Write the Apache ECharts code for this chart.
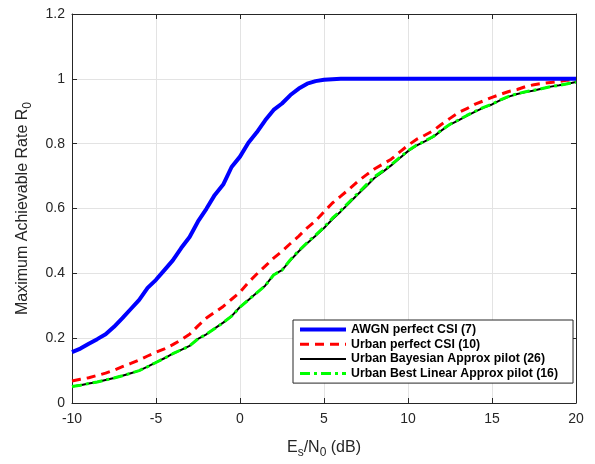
<!DOCTYPE html>
<html>
<head>
<meta charset="utf-8">
<script src="https://cdn.jsdelivr.net/npm/echarts@6/dist/echarts.min.js"></script>
<style>html,body{margin:0;padding:0;background:#fff}#c{width:595px;height:464px}</style>
</head>
<body>
<div id="c"></div>
<script>
// Es/N0 (dB), 0.5 dB steps from -10 to 20
const snr = [];
for (let i = 0; i <= 60; i++) snr.push(-10 + i * 0.5);

const awgnPerfect = [0.157,0.168,0.183,0.197,0.212,0.235,0.262,0.29,0.318,0.355,0.38,0.41,0.44,0.478,0.512,0.56,0.599,0.642,0.674,0.728,0.76,0.803,0.835,0.872,0.904,0.924,0.95,0.97,0.985,0.993,0.997,0.999,1,1,1,1,1,1,1,1,1,1,1,1,1,1,1,1,1,1,1,1,1,1,1,1,1,1,1,1,1];
const urbanPerfect = [0.068,0.073,0.078,0.085,0.092,0.101,0.112,0.122,0.133,0.145,0.157,0.167,0.18,0.195,0.212,0.238,0.262,0.28,0.298,0.32,0.342,0.372,0.398,0.422,0.447,0.468,0.492,0.515,0.54,0.562,0.59,0.617,0.638,0.66,0.683,0.703,0.722,0.737,0.752,0.774,0.795,0.813,0.826,0.84,0.86,0.878,0.896,0.908,0.922,0.932,0.943,0.952,0.961,0.967,0.976,0.982,0.986,0.989,0.992,0.996,0.998];
const urbanBayes = [0.051,0.055,0.06,0.065,0.071,0.077,0.084,0.092,0.1,0.112,0.125,0.138,0.152,0.164,0.176,0.198,0.212,0.23,0.248,0.268,0.296,0.318,0.34,0.362,0.395,0.41,0.44,0.468,0.493,0.516,0.54,0.567,0.591,0.617,0.643,0.668,0.694,0.713,0.733,0.755,0.777,0.794,0.807,0.821,0.841,0.859,0.872,0.886,0.899,0.911,0.921,0.934,0.945,0.953,0.959,0.964,0.97,0.976,0.98,0.985,0.99];
const urbanBLUE = [0.051,0.055,0.06,0.065,0.071,0.077,0.084,0.092,0.1,0.112,0.125,0.138,0.152,0.164,0.176,0.198,0.212,0.23,0.248,0.268,0.296,0.318,0.34,0.362,0.395,0.41,0.442,0.47,0.495,0.518,0.542,0.57,0.594,0.62,0.646,0.672,0.698,0.716,0.735,0.757,0.778,0.795,0.808,0.822,0.842,0.86,0.873,0.887,0.9,0.912,0.922,0.935,0.946,0.954,0.96,0.965,0.97,0.976,0.98,0.985,0.99];

const xTicks = [-10,-5,0,5,10,15,20];
const yTicks = [0,0.2,0.4,0.6,0.8,1,1.2];

const names = ['AWGN perfect CSI (7)','Urban perfect CSI (10)','Urban Bayesian Approx pilot (26)','Urban Best Linear Approx pilot (16)'];
const colors = ['#0000ff','#ff0000','#000000','#00ff00'];
const widths = [4,3,2,3];
const dashes = ['solid',[9,6],'solid',[10,4,3,4]];

function pairs(ys){ return snr.map((x,i)=>[x, ys[i]]); }

const axisColor = '#262626';
const gridColor = '#e3e3e3';
const font = 'Liberation Sans, Arial, Helvetica, sans-serif';

const seriesData = [awgnPerfect, urbanPerfect, urbanBayes, urbanBLUE];
const zs = [4,3,2,3];

const chart = echarts.init(document.getElementById('c'), null, {renderer:'canvas'});
chart.setOption({
  animation:false,
  backgroundColor:'#fff',
  grid:{left:72,right:19,top:14,bottom:52,containLabel:false},
  xAxis:[{
    type:'value',min:xTicks[0],max:xTicks[xTicks.length-1],interval:5,
    axisLine:{show:true,onZero:false,lineStyle:{color:axisColor,width:1}},
    axisTick:{show:true,inside:true,length:5,lineStyle:{color:axisColor}},
    splitLine:{show:true,lineStyle:{color:gridColor,width:1}},
    axisLabel:{color:axisColor,fontSize:14,fontFamily:font,margin:9},
    name:'{a|E}{s|s}{a|/N}{s|0}{a| (dB)}',
    nameLocation:'middle',nameGap:33,
    nameTextStyle:{rich:{a:{fontSize:16,fontFamily:font,color:axisColor},s:{fontSize:12,fontFamily:font,color:axisColor,padding:[11,0,0,0]}}}
  },{
    type:'value',position:'top',min:xTicks[0],max:xTicks[xTicks.length-1],interval:5,
    axisLine:{show:true,onZero:false,lineStyle:{color:axisColor,width:1}},
    axisTick:{show:true,inside:true,length:5,lineStyle:{color:axisColor}},
    splitLine:{show:false},axisLabel:{show:false}
  }],
  yAxis:[{
    type:'value',min:0,max:1.2,interval:0.2,
    axisLine:{show:true,onZero:false,lineStyle:{color:axisColor,width:1}},
    axisTick:{show:true,inside:true,length:5,lineStyle:{color:axisColor}},
    splitLine:{show:true,lineStyle:{color:gridColor,width:1}},
    axisLabel:{color:axisColor,fontSize:14,fontFamily:font,margin:7,
      formatter:function(v){return String(Math.round(v*10)/10);}},
    name:'{a|Maximum Achievable Rate R}{s|0}',
    nameLocation:'middle',nameGap:38,nameRotate:90,
    nameTextStyle:{rich:{a:{fontSize:16,fontFamily:font,color:axisColor},s:{fontSize:12,fontFamily:font,color:axisColor,padding:[11,0,0,0]}}}
  },{
    type:'value',position:'right',min:0,max:1.2,interval:0.2,
    axisLine:{show:true,onZero:false,lineStyle:{color:axisColor,width:1}},
    axisTick:{show:true,inside:true,length:5,lineStyle:{color:axisColor}},
    splitLine:{show:false},axisLabel:{show:false}
  }],
  legend:{
    orient:'vertical',left:293,top:320,
    padding:[3.5,15,3.5,5],
    itemWidth:46,itemHeight:14,itemGap:2.7,
    backgroundColor:'#fff',borderColor:axisColor,borderWidth:1,
    itemStyle:{color:'rgba(0,0,0,0)',borderWidth:0,opacity:0},
    textStyle:{fontSize:12.3,fontWeight:'bold',fontFamily:font,color:'#000'},
    data:names.map((n,i)=>({name:n,lineStyle:{width:widths[i],color:colors[i],type:dashes[i]}}))
  },
  series:names.map((n,i)=>({
    name:n,type:'line',data:pairs(seriesData[i]),symbol:'none',z:zs[i],
    lineStyle:{color:colors[i],width:widths[i],type:dashes[i]},itemStyle:{color:colors[i]}
  }))
});
</script>
</body>
</html>
